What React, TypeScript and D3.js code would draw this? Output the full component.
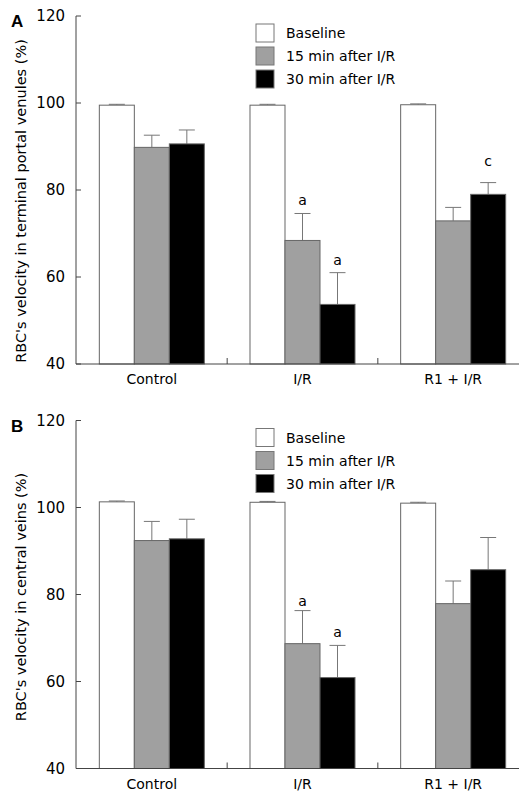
import React from "react";
import * as d3 from "d3";

const groups = ["Control", "I/R", "R1 + I/R"];
const seriesNames = ["Baseline", "15 min after I/R", "30 min after I/R"];
const seriesColors = ["#ffffff", "#a0a0a0", "#000000"];
const yTicks = [40, 60, 80, 100, 120];

// Panel A: terminal portal venules
const aBaseline = [99.5, 99.5, 99.6];
const a15 = [89.8, 68.4, 72.9];
const a30 = [90.6, 53.7, 79.0];
const aBaselineErr = [0.2, 0.2, 0.2];
const a15Err = [2.8, 6.2, 3.1];
const a30Err = [3.2, 7.3, 2.7];
const aMarks = [["", "", ""], ["", "a", "a"], ["", "", "c"]];

// Panel B: central veins
const bBaseline = [101.3, 101.2, 101.0];
const b15 = [92.4, 68.7, 77.9];
const b30 = [92.8, 60.9, 85.7];
const bBaselineErr = [0.2, 0.2, 0.2];
const b15Err = [4.4, 7.6, 5.2];
const b30Err = [4.5, 7.4, 7.4];
const bMarks = [["", "", ""], ["", "a", "a"], ["", "", ""]];

const FONT = "'DejaVu Sans', Verdana, sans-serif";

type PanelProps = {
  top: number;
  letter: string;
  yTitle: string;
  titleCenter: number;
  values: number[][];
  errors: number[][];
  marks: string[][];
  markOffsets: number[][];
};

function Panel({ top, letter, yTitle, titleCenter, values, errors, marks, markOffsets }: PanelProps) {
  const axisX = 76;
  const plotTop = top + 16;
  const plotBottom = top + 364;
  const y = d3.scaleLinear().domain([40, 120]).range([plotBottom, plotTop]);
  const x0 = d3.scaleBand<string>().domain(groups).range([76.5, 528.5]);
  const bw = x0.bandwidth();
  const inner = bw * 0.697;
  const x1 = d3
    .scaleBand<string>()
    .domain(seriesNames)
    .range([(bw - inner) / 2, (bw + inner) / 2]);
  const barW = x1.bandwidth();
  const capW = 16;

  return (
    <g>
      <text x={11} y={top + 27} fontFamily="'Liberation Sans', Arial, sans-serif" fontWeight="bold" fontSize={17}>
        {letter}
      </text>
      {/* y axis */}
      <line x1={axisX} x2={axisX} y1={plotTop} y2={plotBottom} stroke="#444" />
      {yTicks.map((t) => (
        <g key={t}>
          <line x1={axisX} x2={axisX + 5} y1={y(t)} y2={y(t)} stroke="#444" />
          <text x={65} y={y(t)} dy="0.36em" textAnchor="end" fontFamily={FONT} fontSize={15}>
            {t}
          </text>
        </g>
      ))}
      <text
        transform={`translate(26,${top + titleCenter}) rotate(-90)`}
        textAnchor="middle"
        fontFamily={FONT}
        fontSize={14.5}
      >
        {yTitle}
      </text>
      {/* bars */}
      {groups.map((g, gi) => (
        <g key={g} transform={`translate(${x0(g)},0)`}>
          {seriesNames.map((s, si) => {
            const v = values[si][gi];
            const e = errors[si][gi];
            const cx = (x1(s) as number) + barW / 2;
            const mark = marks[gi][si];
            return (
              <g key={s}>
                <line x1={cx} x2={cx} y1={y(v)} y2={y(v + e)} stroke="#777" />
                <line x1={cx - capW / 2} x2={cx + capW / 2} y1={y(v + e)} y2={y(v + e)} stroke="#777" />
                <rect
                  x={x1(s)}
                  y={y(v)}
                  width={barW}
                  height={plotBottom - y(v)}
                  fill={seriesColors[si]}
                  stroke="#666"
                  strokeWidth={1}
                />
                {mark && (
                  <text
                    x={cx}
                    y={y(v + e) - markOffsets[gi][si]}
                    textAnchor="middle"
                    fontFamily={FONT}
                    fontSize={14}
                  >
                    {mark}
                  </text>
                )}
              </g>
            );
          })}
        </g>
      ))}
      {/* x axis */}
      <line x1={axisX} x2={519} y1={plotBottom} y2={plotBottom} stroke="#444" />
      {groups.slice(1).map((g) => (
        <line key={g} x1={x0(g)} x2={x0(g)} y1={plotBottom} y2={plotBottom - 6} stroke="#444" />
      ))}
      {groups.map((g) => (
        <text
          key={g}
          x={(x0(g) as number) + bw / 2}
          y={plotBottom + 20}
          textAnchor="middle"
          fontFamily={FONT}
          fontSize={14}
        >
          {g}
        </text>
      ))}
      {/* legend */}
      {seriesNames.map((s, i) => (
        <g key={s} transform={`translate(256,${top + 24 + i * 23})`}>
          <rect x={0} y={0} width={18} height={18} fill={seriesColors[i]} stroke="#777" />
          <text x={30} y={9} dy="0.36em" fontFamily={FONT} fontSize={14}>
            {s}
          </text>
        </g>
      ))}
    </g>
  );
}

export default function App() {
  return (
    <svg
      width={532}
      height={794}
      style={{ position: "absolute", left: 0, top: 0, background: "#fff" }}
    >
      <Panel
        top={0}
        letter="A"
        yTitle="RBC's velocity in terminal portal venules (%)"
        titleCenter={201}
        values={[aBaseline, a15, a30]}
        errors={[aBaselineErr, a15Err, a30Err]}
        marks={aMarks}
        markOffsets={[[0, 0, 0], [0, 8, 8], [0, 0, 17]]}
      />
      <Panel
        top={404.5}
        letter="B"
        yTitle="RBC's velocity in central veins (%)"
        titleCenter={192.5}
        values={[bBaseline, b15, b30]}
        errors={[bBaselineErr, b15Err, b30Err]}
        marks={bMarks}
        markOffsets={[[0, 0, 0], [0, 5, 8], [0, 0, 0]]}
      />
    </svg>
  );
}
